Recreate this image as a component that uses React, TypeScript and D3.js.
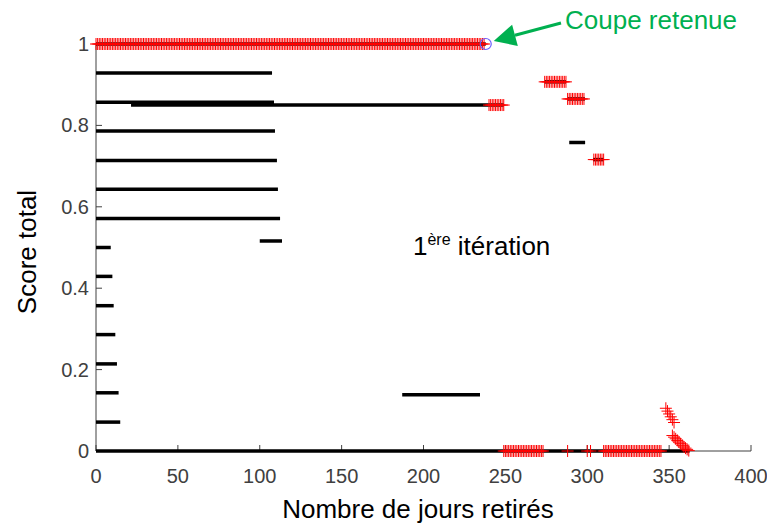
import { useEffect, useRef } from "react";
import * as d3 from "d3";

const xTicks = [0, 50, 100, 150, 200, 250, 300, 350, 400];
const yTicks = [0, 0.2, 0.4, 0.6, 0.8, 1];

// black score segments: [first day, last day, score]
const levelLines: [number, number, number][] = [
  [0, 238, 1],
  [0, 107.5, 0.929],
  [0, 108.7, 0.857],
  [21.4, 249, 0.85],
  [0, 109.3, 0.786],
  [0, 110.5, 0.714],
  [0, 111.1, 0.643],
  [0, 112.4, 0.571],
  [0, 9.0, 0.5],
  [0, 10.0, 0.429],
  [0, 10.8, 0.357],
  [0, 11.8, 0.286],
  [0, 12.8, 0.214],
  [0, 13.8, 0.143],
  [0, 14.8, 0.071],
  [0, 362.5, 0],
  [100, 113.6, 0.516],
  [187, 234.5, 0.138],
  [274, 287, 0.907],
  [288, 298.6, 0.865],
  [289, 298.7, 0.758],
  [303.5, 310, 0.716],
];

// red "+" runs, one marker per day: [first day, last day, score]
const crossRuns: [number, number, number][] = [
  [0, 237, 1],
  [240, 249, 0.85],
  [274, 287, 0.907],
  [288, 298, 0.865],
  [304, 310, 0.716],
  [249, 273, 0],
  [288, 288, 0],
  [300, 300, 0],
  [302, 302, 0],
  [310, 345, 0],
];

// sloped marker groups near the end of the range
const slopeDays = [348, 349, 350, 351, 352, 353, 352, 353, 354, 355, 356, 357, 358, 359, 360, 361, 362];
const slopeScores = [0.105, 0.098, 0.091, 0.084, 0.077, 0.07, 0.038, 0.034, 0.03, 0.026, 0.022, 0.018, 0.014, 0.01, 0.007, 0.004, 0.001];

const chosenDay = 238;
const chosenScore = 1;

const width = 767;
const height = 527;
const font = "'Liberation Sans', Arial, Helvetica, sans-serif";

export default function App() {
  const svgRef = useRef<SVGSVGElement | null>(null);

  useEffect(() => {
    if (!svgRef.current) return;
    const svg = d3.select(svgRef.current);
    svg.selectAll("*").remove();

    const x = d3.scaleLinear().domain([0, 400]).range([96, 751]);
    const y = d3.scaleLinear().domain([0, 1]).range([451, 44]);

    // axes
    const axisColor = "#404040";
    svg.append("line")
      .attr("x1", x(0)).attr("x2", x(0))
      .attr("y1", y(0)).attr("y2", y(1))
      .attr("stroke", axisColor).attr("stroke-width", 1);
    svg.append("line")
      .attr("x1", x(0)).attr("x2", x(400))
      .attr("y1", y(0)).attr("y2", y(0))
      .attr("stroke", axisColor).attr("stroke-width", 1);

    xTicks.forEach(t => {
      svg.append("line")
        .attr("x1", x(t)).attr("x2", x(t))
        .attr("y1", y(0)).attr("y2", y(0) - 6)
        .attr("stroke", axisColor);
      svg.append("text")
        .attr("x", x(t)).attr("y", y(0) + 32)
        .attr("text-anchor", "middle")
        .style("font-family", font).style("font-size", "20px")
        .style("fill", axisColor)
        .text(String(t));
    });

    yTicks.forEach(t => {
      svg.append("line")
        .attr("x1", x(0)).attr("x2", x(0) + 6)
        .attr("y1", y(t)).attr("y2", y(t))
        .attr("stroke", axisColor);
      svg.append("text")
        .attr("x", x(0) - 7).attr("y", y(t) + 7)
        .attr("text-anchor", "end")
        .style("font-family", font).style("font-size", "20px")
        .style("fill", axisColor)
        .text(String(t));
    });

    // black segments
    svg.append("g")
      .selectAll("line")
      .data(levelLines)
      .enter()
      .append("line")
      .attr("x1", d => x(d[0]))
      .attr("x2", d => x(d[1]))
      .attr("y1", d => y(d[2]))
      .attr("y2", d => y(d[2]))
      .attr("stroke", "#000")
      .attr("stroke-width", 3.5);

    // red crosses
    const pts: [number, number][] = [];
    crossRuns.forEach(([a, b, s]) => {
      for (let d = a; d <= b; d++) pts.push([d, s]);
    });
    slopeDays.forEach((d, i) => pts.push([d, slopeScores[i]]));

    const half = 6;
    svg.append("g")
      .selectAll("path")
      .data(pts)
      .enter()
      .append("path")
      .attr("transform", d => `translate(${x(d[0])},${y(d[1])})`)
      .attr("d", `M${-half},0H${half}M0,${-half}V${half}`)
      .attr("fill", "none")
      .attr("stroke", "#ff0000")
      .attr("stroke-width", 1);

    // selected cut
    svg.append("circle")
      .attr("cx", x(chosenDay)).attr("cy", y(chosenScore))
      .attr("r", 5.5)
      .attr("fill", "none")
      .attr("stroke", "#6a5cff")
      .attr("stroke-width", 1.2);

    // annotation arrow
    const green = "#00b050";
    const tail: [number, number] = [561, 23];
    const tip: [number, number] = [x(chosenDay) + 8, y(chosenScore) - 3];
    const ang = Math.atan2(tip[1] - tail[1], tip[0] - tail[0]);
    const headLen = 22;
    const headW = 11;
    const bx = tip[0] - headLen * Math.cos(ang);
    const by = tip[1] - headLen * Math.sin(ang);
    svg.append("line")
      .attr("x1", tail[0]).attr("y1", tail[1])
      .attr("x2", bx).attr("y2", by)
      .attr("stroke", green).attr("stroke-width", 3);
    svg.append("path")
      .attr("d", `M${tip[0]},${tip[1]}L${bx + headW * Math.sin(ang)},${by - headW * Math.cos(ang)}L${bx - headW * Math.sin(ang)},${by + headW * Math.cos(ang)}Z`)
      .attr("fill", green);

    svg.append("text")
      .attr("x", 565).attr("y", 29)
      .style("font-family", font).style("font-size", "26px")
      .style("fill", green)
      .text("Coupe retenue");

    const it = svg.append("text")
      .attr("x", 413).attr("y", 255)
      .style("font-family", font).style("font-size", "26px")
      .style("fill", "#000");
    it.append("tspan").text("1");
    it.append("tspan").attr("dy", -10).style("font-size", "16px").text("ère");
    it.append("tspan").attr("dy", 10).text(" itération");

    // axis titles
    svg.append("text")
      .attr("x", 418).attr("y", 518)
      .attr("text-anchor", "middle")
      .style("font-family", font).style("font-size", "26px")
      .style("fill", "#000")
      .text("Nombre de jours retirés");
    svg.append("text")
      .attr("transform", `translate(36,252) rotate(-90)`)
      .attr("text-anchor", "middle")
      .style("font-family", font).style("font-size", "26px")
      .style("fill", "#000")
      .text("Score total");
  }, []);

  return (
    <svg
      ref={svgRef}
      width={width}
      height={height}
      style={{ position: "absolute", left: 0, top: 0, background: "#fff" }}
    />
  );
}
